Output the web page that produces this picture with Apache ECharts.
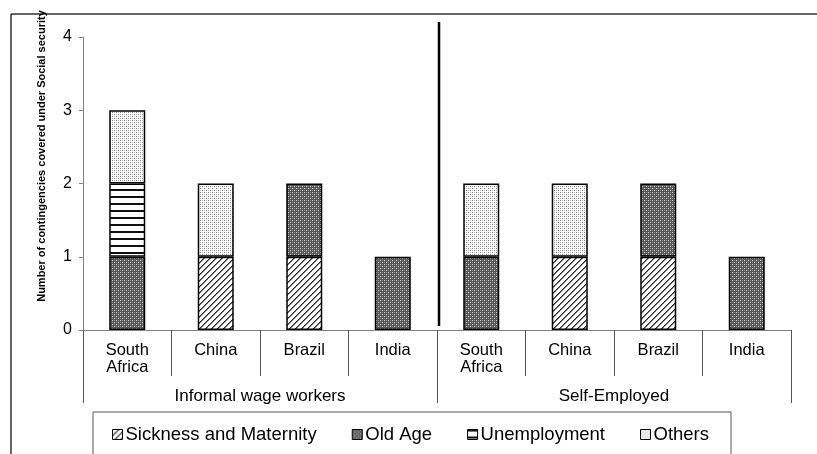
<!DOCTYPE html>
<html>
<head>
<meta charset="utf-8">
<style>
html, body { margin: 0; padding: 0; background: #fff; }
#chart { width: 817px; height: 454px; }
</style>
<script src="https://cdn.jsdelivr.net/npm/echarts@6/dist/echarts.min.js"></script>
</head>
<body>
<div id="chart"></div>
<script>
// data
const countries = ["South\nAfrica", "China", "Brazil", "India", "South\nAfrica", "China", "Brazil", "India"];
const groups = ["Informal wage workers", "Self-Employed"];
const sickness = ["-", 1, 1, "-", "-", 1, 1, "-"];
const oldAge = [1, "-", 1, 1, 1, "-", 1, 1];
const unemployment = [1, "-", "-", "-", "-", "-", "-", "-"];
const others = [1, 1, "-", "-", 1, 1, "-", "-"];

const FONT = "'Liberation Sans', Arial, sans-serif";

// small canvas tiles used as fill patterns
function tile(w, h, bg, px) {
    let c = document.createElement("canvas");
    c.width = w;
    c.height = h;
    let ctx = c.getContext("2d");
    ctx.fillStyle = bg;
    ctx.fillRect(0, 0, w, h);
    px.forEach(function (p) {
        ctx.fillStyle = p[2];
        ctx.fillRect(p[0], p[1], p[3] || 1, p[4] || 1);
    });
    return { image: c, repeat: "repeat" };
}

let diag = [];
for (let i = 0; i < 6; i++) {
    diag.push([i, 5 - i, "#2a2a2a"]);
    diag.push([(i + 1) % 6, 5 - i, "#777"]);
}
const hatchSickness = tile(6, 6, "#fff", diag);
const checkOldAge = tile(4, 4, "#555", [
    [0, 0, "#d8d8d8"], [2, 2, "#d8d8d8"], [2, 0, "#909090"], [0, 2, "#909090"]
]);
const stripeUnemp = tile(4, 7, "#fff", [[0, 0, "#111", 4, 2]]);
const dotsOthers = tile(4, 4, "#fff", [
    [0, 0, "#808080"], [2, 2, "#808080"], [2, 0, "#b8b8b8"], [0, 2, "#b8b8b8"]
]);

let dom = document.getElementById("chart");
let myChart = echarts.init(dom, null, { renderer: "canvas" });

function barSeries(name, data, fill) {
    return {
        name: name,
        type: "bar",
        stack: "total",
        barWidth: 36,
        data: data,
        itemStyle: { color: fill, borderColor: "#000", borderWidth: 1.5 },
        emphasis: { disabled: true },
    };
}

let option = {
    animation: false,
    textStyle: { fontFamily: FONT },
    grid: { left: 83, right: 26, top: 37, bottom: 124 },
    legend: {
        left: 93,
        top: 412,
        padding: [13, 22, 30, 19],
        borderColor: "#555",
        borderWidth: 1,
        itemWidth: 10,
        itemHeight: 10,
        itemGap: 35,
        icon: "rect",
        itemStyle: { borderColor: "#000", borderWidth: 1 },
        textStyle: { fontFamily: FONT, fontSize: 18.5, color: "#000", padding: [0, 0, 0, -2] },
        data: ["Sickness and Maternity", "Old Age", "Unemployment", "Others"],
    },
    xAxis: [{
        type: "category",
        data: countries,
        axisLine: { show: true, lineStyle: { color: "#808080", width: 1 } },
        axisTick: { show: true, interval: 0, length: 46, lineStyle: { color: "#555", width: 1 } },
        axisLabel: {
            interval: 0,
            margin: 12,
            fontFamily: FONT,
            fontSize: 16.5,
            lineHeight: 17,
            color: "#000",
        },
    }, {
        type: "category",
        position: "bottom",
        data: groups,
        axisLine: { show: false },
        axisTick: { show: true, interval: 0, length: 73, lineStyle: { color: "#555", width: 1 } },
        axisLabel: { margin: 58, fontFamily: FONT, fontSize: 17, color: "#000" },
    }],
    yAxis: {
        type: "value",
        min: 0,
        max: 4,
        interval: 1,
        splitLine: { show: false },
        axisLine: { show: true, lineStyle: { color: "#808080", width: 1 } },
        axisTick: { show: true, length: 4, lineStyle: { color: "#808080" } },
        axisLabel: { margin: 11, fontFamily: FONT, fontSize: 16, color: "#000" },
    },
    series: [
        barSeries("Sickness and Maternity", sickness, hatchSickness),
        barSeries("Old Age", oldAge, checkOldAge),
        barSeries("Unemployment", unemployment, stripeUnemp),
        barSeries("Others", others, dotsOthers),
    ],
};

myChart.setOption(option);

// frame, y title and the divider between the two groups
let x3 = myChart.convertToPixel({ xAxisIndex: 0 }, 3);
let x4 = myChart.convertToPixel({ xAxisIndex: 0 }, 4);
let divX = (x3 + x4) / 2 + 2;
let yTop = myChart.convertToPixel({ yAxisIndex: 0 }, 4);
let yZero = myChart.convertToPixel({ yAxisIndex: 0 }, 0);

myChart.setOption({
    graphic: [
        { type: "line", shape: { x1: 11, y1: 14, x2: 817, y2: 14 }, style: { stroke: "#333", lineWidth: 1.5 } },
        { type: "line", shape: { x1: 11, y1: 14, x2: 11, y2: 454 }, style: { stroke: "#333", lineWidth: 1.5 } },
        { type: "line", shape: { x1: divX, y1: yTop - 15, x2: divX, y2: yZero - 4 }, style: { stroke: "#000", lineWidth: 2.5 } },
        {
            type: "text",
            x: 42,
            y: 156,
            rotation: Math.PI / 2,
            style: {
                text: "Number of contingencies covered under Social security",
                font: "bold 11px " + FONT,
                fill: "#000",
                align: "center",
                verticalAlign: "middle",
            },
        },
    ],
});

window.addEventListener("resize", myChart.resize);
</script>
</body>
</html>
